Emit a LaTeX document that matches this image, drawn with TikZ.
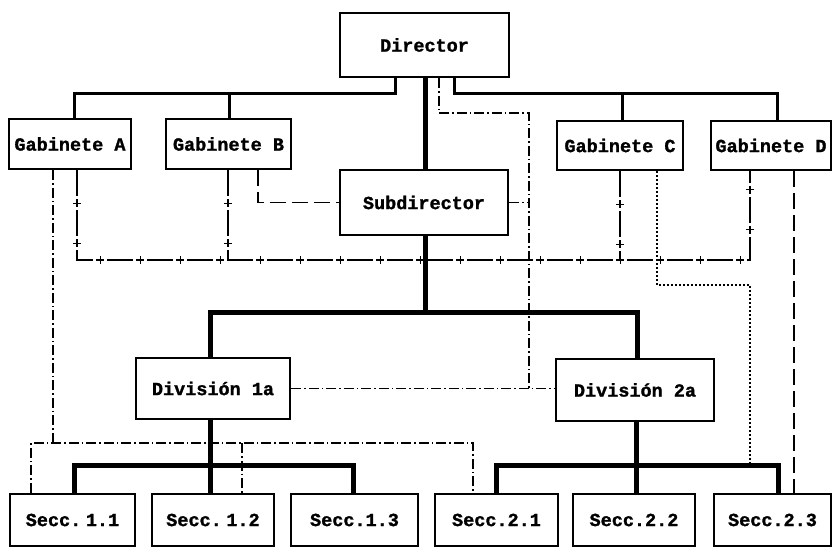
\documentclass[tikz,border=0pt]{standalone}
\usepackage{fontspec}
\newfontfamily\boxfont{Liberation Mono}[BoldFeatures={FakeBold=1.3}]
\usetikzlibrary{calc,decorations.markings}
\begin{document}
\begin{tikzpicture}[x=1pt,y=-1pt,
  unit/.style={draw,line width=2.8pt,inner sep=0pt,rectangle,
    font=\fontsize{18.5}{20}\boxfont\bfseries},
  org/.style={line width=3pt},
  heavy/.style={line width=5pt},
  dashdotline/.style={line width=1.4pt,dash pattern=on 10pt off 3pt on 1.5pt off 3pt},
  dottedline/.style={line width=1.5pt,dash pattern=on 1.6pt off 2.4pt},
  longdash/.style={line width=1.4pt,dash pattern=on 16pt off 6pt},
  plusline/.style={line width=1.4pt,dash pattern=on 26pt off 14pt,
    postaction={decorate},
    decoration={markings,
      mark=between positions 33pt and 1 step 40pt with
        {\draw[solid,line width=1.6pt] (-4pt,0)--(4pt,0) (0,-4pt)--(0,4pt);}}}
]
\useasboundingbox (0,0) rectangle (833,548);

% units
\node[unit,minimum width=169pt,minimum height=64pt] (dir)  at (424.5,45)  {Director};
\node[unit,minimum width=122pt,minimum height=50pt] (gabA) at (70,144)    {Gabinete A};
\node[unit,minimum width=125pt,minimum height=50pt] (gabB) at (228.5,144) {Gabinete B};
\node[unit,minimum width=126pt,minimum height=49pt] (gabC) at (620,145.5) {Gabinete C};
\node[unit,minimum width=120pt,minimum height=49pt] (gabD) at (771,145.5) {Gabinete D};
\node[unit,minimum width=168pt,minimum height=65pt] (sub)  at (424,202.5) {Subdirector};
\node[unit,minimum width=154pt,minimum height=61pt] (div1) at (213,388.5) {División 1a};
\node[unit,minimum width=158pt,minimum height=62pt] (div2) at (635,390)   {División 2a};
\node[unit,minimum width=125pt,minimum height=52pt] (s11) at (72.5,520)  {Secc.\hspace{0.25em}1.1};
\node[unit,minimum width=122pt,minimum height=52pt] (s12) at (213,520)   {Secc.\hspace{0.25em}1.2};
\node[unit,minimum width=127pt,minimum height=52pt] (s13) at (354.5,520) {Secc.1.3};
\node[unit,minimum width=123pt,minimum height=52pt] (s21) at (496.5,520) {Secc.2.1};
\node[unit,minimum width=122pt,minimum height=52pt] (s22) at (634,520)   {Secc.2.2};
\node[unit,minimum width=117pt,minimum height=52pt] (s23) at (772.5,520) {Secc.2.3};

% staff line from the director
\draw[org] (395,0 |- dir.south) |- (74,94) -- (74,0 |- gabA.north);
\draw[org] (229,94) -- (229,0 |- gabB.north);
\draw[org] (454,0 |- dir.south) |- (777,94) -- (777,0 |- gabD.north);
\draw[org] (622,94) -- (622,0 |- gabC.north);

% line of command
\draw[heavy] (425,0 |- dir.south) -- (425,0 |- sub.north);
\draw[heavy] (425,0 |- sub.south) -- (425,312);
\draw[heavy] (210,0 |- div1.north) |- (637,312) -- (637,0 |- div2.north);
\draw[heavy] (210,0 |- div1.south) -- (210,0 |- s12.north);
\draw[heavy] (74,0 |- s11.north) |- (353,465) -- (353,0 |- s13.north);
\draw[heavy] (636,0 |- div2.south) -- (636,0 |- s22.north);
\draw[heavy] (496,0 |- s21.north) |- (778,465) -- (778,0 |- s23.north);

% functional relations
\draw[dashdotline] (53,0 |- gabA.south) -- (53,443);
\draw[dashdotline] (31,0 |- s11.north) |- (473,443) -- (473,0 |- s21.north);
\draw[dashdotline] (242,443) -- (242,0 |- s12.north);

\draw[plusline] (77,0 |- gabA.south) |- (750,260) -- (750,0 |- gabD.south);
\draw[plusline] (228,0 |- gabB.south) -- (228,260);
\draw[plusline] (620,0 |- gabC.south) -- (620,260);

\draw[longdash] (258,0 |- gabB.south) |- (sub.west);

\draw[dashdotline] (439,0 |- dir.south) |- (529,113) -- (529,388.5);
\draw[dashdotline] (sub.east) -- (529,0 |- sub.east);
\draw[dashdotline] (div1.east) -- (div2.west |- div1.east);

\draw[dottedline] (657,0 |- gabC.south) |- (750,285) -- (750,465);

\draw[longdash] (794,0 |- gabD.south) -- (794,0 |- s23.north);
\end{tikzpicture}
\end{document}
